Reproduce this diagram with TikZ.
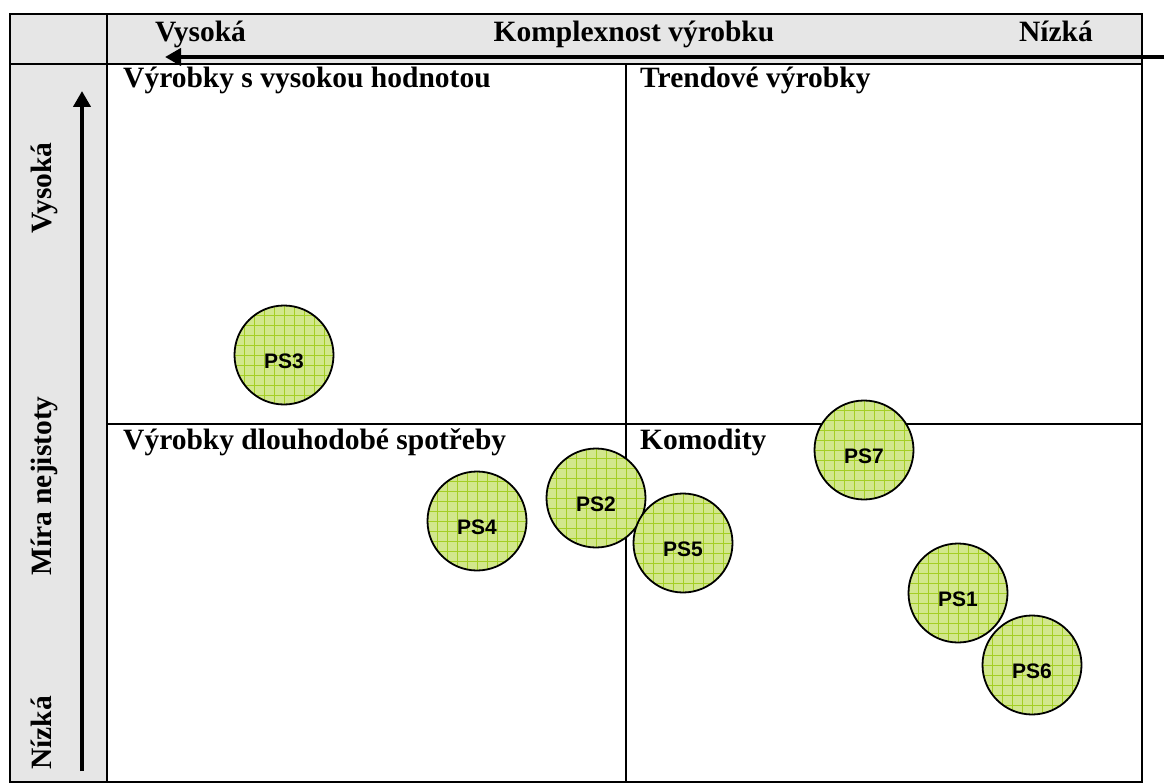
\documentclass[tikz,border=0pt]{standalone}
\usepackage{fontspec}
\setmainfont{Liberation Serif}
\setsansfont{Liberation Sans}
\usetikzlibrary{arrows.meta,positioning}
\definecolor{headgray}{RGB}{230,230,230}
\definecolor{bubblefill}{RGB}{210,231,140}
\definecolor{bubblegrid}{RGB}{164,206,36}
\tikzset{
  frame/.style={draw=black, line width=2},
  axis/.style={-{Triangle[length=16, width=17]}, line width=4.5, black},
  title/.style={font=\fontsize{29.5}{34}\selectfont\bfseries, inner sep=0pt},
  psbubble/.style={circle, draw=black, line width=1.8, fill=bubblefill, minimum size=99, inner sep=0pt,
    path picture={\draw[bubblegrid, line width=0.7] (path picture bounding box.south west) grid[step=10pt] (path picture bounding box.north east);}},
  pslabel/.style={font=\sffamily\bfseries\fontsize{21}{25}\selectfont, inner sep=0pt, yshift=-6},
}
\begin{document}
\begin{tikzpicture}[x=1pt, y=-1pt]
  \useasboundingbox (0,0) rectangle (1166,783);
  % grey header and side column
  \fill[headgray] (10,14) rectangle (1142,64);
  \fill[headgray] (10,64) rectangle (107,782);
  % table lines
  \draw[frame] (10,14) rectangle (1142,782);
  \draw[frame] (107,14) -- (107,782);
  \draw[frame] (10,64) -- (1142,64);
  \draw[frame] (626,64) -- (626,782);
  \draw[frame] (107,424) -- (1142,424);
  % axes
  \coordinate (hstart) at (1164,57);
  \coordinate (hend) at (165,57);
  \coordinate (vstart) at (82,771);
  \coordinate (vend) at (82,91);
  \draw[axis] (hstart) -- (hend);
  \draw[axis] (vstart) -- (vend);
  % axis texts
  \node[title, anchor=base west] (hhigh) at (155,42) {Vysoká};
  \node[title, anchor=base] (htitle) at (634,42) {Komplexnost výrobku};
  \node[title, anchor=base east] (hlow) at (1093,42) {Nízká};
  \node[title, rotate=90, anchor=base] (vhigh) at (51,188) {Vysoká};
  \node[title, rotate=90, anchor=base] (vtitle) at (51,486) {Míra nejistoty};
  \node[title, rotate=90, anchor=base] (vlow) at (51,733) {Nízká};
  % quadrants
  \node[title, anchor=base west] (qvalue) at (123,88) {Výrobky s vysokou hodnotou};
  \node[title, anchor=base west] (qtrend) at (640,88) {Trendové výrobky};
  \node[title, anchor=base west] (qdurable) at (123,449) {Výrobky dlouhodobé spotřeby};
  \node[title, anchor=base west] (qcommod) at (640,449) {Komodity};
  % product groups
  \node[psbubble, label={[pslabel]center:PS3}] (ps3) at (284,355) {};
  \node[psbubble, label={[pslabel]center:PS4}] (ps4) at (477,521) {};
  \node[psbubble, label={[pslabel]center:PS2}] (ps2) at (596,498) {};
  \node[psbubble, label={[pslabel]center:PS5}] (ps5) at (683,543) {};
  \node[psbubble, label={[pslabel]center:PS7}] (ps7) at (864,450) {};
  \node[psbubble, label={[pslabel]center:PS1}] (ps1) at (958,593) {};
  \node[psbubble, label={[pslabel]center:PS6}] (ps6) at (1032,665) {};
\end{tikzpicture}
\end{document}
